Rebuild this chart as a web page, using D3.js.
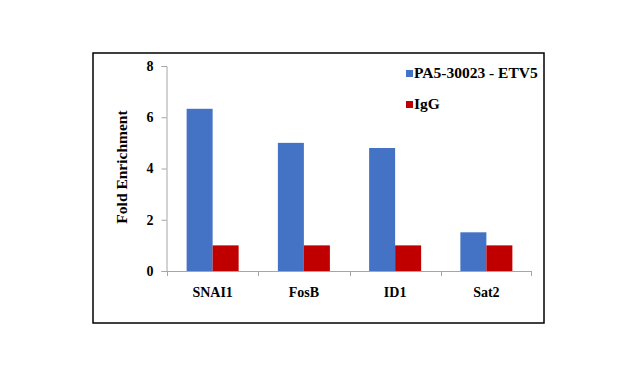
<!DOCTYPE html>
<html>
<head>
<meta charset="utf-8">
<script src="https://cdn.jsdelivr.net/npm/d3@7"></script>
<style>
  body { margin: 0; background: #fff; }
  svg text { font-family: 'Times New Roman', 'Liberation Serif', serif !important; font-weight: bold; }
</style>
</head>
<body>
<svg id="chart" width="635" height="371"></svg>
<script>
// Chart data
const categories = ["SNAI1", "FosB", "ID1", "Sat2"];
const seriesNames = ["PA5-30023 - ETV5", "IgG"];
const etv5Values = [6.33, 5.0, 4.8, 1.51];
const iggValues = [1.0, 1.0, 1.0, 1.0];
const yTicks = [0, 2, 4, 6, 8];
const colors = ["#4472C4", "#C00000"];

const svg = d3.select('#chart');

// Outer frame
svg.append('rect')
    .attr('x', 93)
    .attr('y', 53)
    .attr('width', 451)
    .attr('height', 270)
    .attr('fill', 'none')
    .attr('stroke', '#000')
    .attr('stroke-width', 1.5);

// Scales
const x = d3.scaleBand()
    .domain(categories)
    .range([167, 532]);

const inner = d3.scaleBand()
    .domain(seriesNames)
    .range([0, 52]);

const y = d3.scaleLinear()
    .domain([0, 8])
    .range([271, 66]);

const rows = categories.map((c, i) => ({ cat: c, vals: [etv5Values[i], iggValues[i]] }));

// Bars
const groups = svg.append('g')
    .selectAll('g')
    .data(rows)
    .join('g')
    .attr('transform', d => `translate(${x(d.cat) + (x.bandwidth() - 52) / 2},0)`);

groups.selectAll('rect')
    .data(d => d.vals.map((v, j) => ({ name: seriesNames[j], v: v, j: j })))
    .join('rect')
    .attr('x', d => inner(d.name))
    .attr('y', d => y(d.v))
    .attr('width', inner.bandwidth())
    .attr('height', d => y(0) - y(d.v))
    .attr('fill', d => colors[d.j]);

// Y axis
const yAxis = svg.append('g')
    .attr('transform', 'translate(166.5,0)')
    .call(d3.axisLeft(y).tickValues(yTicks).tickSize(5).tickPadding(8));
yAxis.attr('font-family', null);
yAxis.selectAll('path, line').attr('stroke', '#a6a6a6');
yAxis.selectAll('text').attr('font-size', 14).attr('fill', '#000');

// X axis
const xAxis = svg.append('g')
    .attr('transform', 'translate(0,271)')
    .call(d3.axisBottom(x).tickSize(0).tickPadding(16));
xAxis.attr('font-family', null);
xAxis.select('path').attr('stroke', '#a6a6a6').attr('d', 'M167,0.5H532');
xAxis.selectAll('text').attr('font-size', 14).attr('fill', '#000');

// Category separators
svg.append('g')
    .selectAll('line')
    .data(categories.concat(['end']))
    .join('line')
    .attr('x1', (d, i) => i < categories.length ? Math.round(x(d)) + 0.5 : 531.5)
    .attr('x2', (d, i) => i < categories.length ? Math.round(x(d)) + 0.5 : 531.5)
    .attr('y1', 271)
    .attr('y2', 276)
    .attr('stroke', '#a6a6a6');

// Y axis title
svg.append('text')
    .attr('transform', 'translate(127,167) rotate(-90)')
    .attr('text-anchor', 'middle')
    .attr('font-size', 15.5)
    .text('Fold Enrichment');

// Legend
const legend = svg.append('g')
    .selectAll('g')
    .data(seriesNames)
    .join('g')
    .attr('transform', (d, i) => `translate(406,${70 + i * 31})`);

legend.append('rect')
    .attr('width', 7)
    .attr('height', 7)
    .attr('fill', (d, i) => colors[i]);

legend.append('text')
    .attr('x', 8)
    .attr('y', 7.5)
    .attr('font-size', 15.5)
    .text(d => d);
</script>
</body>
</html>
